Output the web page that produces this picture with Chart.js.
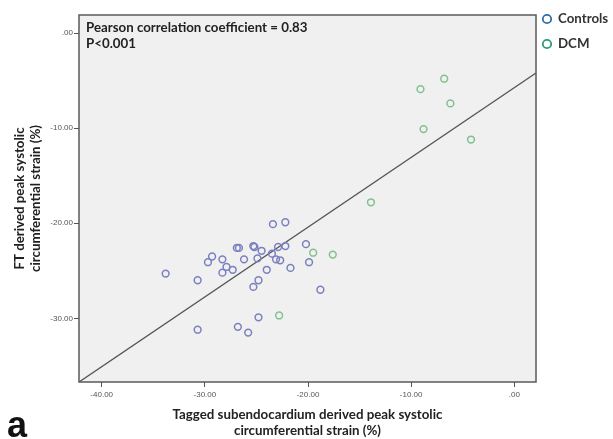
<!DOCTYPE html>
<html>
<head>
<meta charset="utf-8">
<script src="https://cdn.jsdelivr.net/npm/chart.js@4/dist/chart.umd.min.js"></script>
<style>
  html,body{margin:0;padding:0;background:#fff;}
  canvas{display:block;}
</style>
</head>
<body>
<canvas id="strainChart" width="613" height="439"></canvas>
<script>
/* FT vs tagged circumferential strain scatter */
const controlsX = [-33.8,-30.7,-30.7,-29.3,-29.7,-28.3,-27.9,-28.3,-27.3,-26.9,-26.7,-26.8,-25.8,-26.2,-25.3,-25.2,-24.5,-24.9,-24.0,-24.8,-25.3,-24.8,-23.4,-22.2,-22.9,-22.2,-23.5,-23.1,-22.7,-21.7,-20.2,-19.9,-18.8];
const controlsY = [-25.3,-26.0,-31.2,-23.5,-24.1,-23.8,-24.6,-25.2,-24.9,-22.6,-22.6,-30.9,-31.5,-23.8,-22.4,-22.5,-22.9,-23.7,-24.9,-26.0,-26.7,-29.9,-20.1,-19.9,-22.5,-22.4,-23.2,-23.8,-23.9,-24.7,-22.2,-24.1,-27.0];
const dcmX = [-9.1,-6.8,-6.2,-8.8,-4.2,-13.9,-19.5,-17.6,-22.8];
const dcmY = [-5.9,-4.8,-7.4,-10.1,-11.2,-17.8,-23.1,-23.3,-29.7];
const fitX = [-42.2, 2.1];
const fitY = [-36.7, -4.2];
const xTicks = [-40,-30,-20,-10,0];
const yTicks = [0,-10,-20,-30];
const legendLabels = ['Controls','DCM'];
const statLines = ['Pearson correlation coefficient = 0.83','P<0.001'];

const pts = (xs,ys)=> xs.map((x,i)=>({x:x, y:ys[i]}));
const fmt = v=> v===0 ? '.00' : v.toFixed(2);
const titleFont = {family:'Lato', weight:'bold', size:13.3, lineHeight:1.2};

const framePlugin = {
  id:'frame',
  beforeDraw(chart){
    const {ctx, chartArea:a} = chart;
    ctx.save(); ctx.fillStyle='#f0f0f0'; ctx.fillRect(a.left,a.top,a.right-a.left,a.bottom-a.top); ctx.restore();
  },
  afterDraw(chart){
    const {ctx, chartArea:a} = chart;
    ctx.save();
    ctx.strokeStyle='#5a5a5a'; ctx.lineWidth=1.5;
    ctx.strokeRect(a.left,a.top,a.right-a.left,a.bottom-a.top);
    // stats text
    ctx.fillStyle='#222'; ctx.font='bold 13.3px Lato'; ctx.textBaseline='middle'; ctx.textAlign='left';
    ctx.fillText(statLines[0], a.left+7, a.top+13);
    ctx.fillText(statLines[1], a.left+7, a.top+29);
    // legend
    const cols=['#2f6ea6','#2e9a78'];
    legendLabels.forEach((lab,i)=>{
      const y = 19 + i*25;
      ctx.beginPath(); ctx.strokeStyle=cols[i]; ctx.lineWidth=1.8; ctx.arc(a.right+11, y, 4.2, 0, Math.PI*2); ctx.stroke();
      ctx.fillStyle='#333'; ctx.fillText(lab, a.right+22, y);
    });
    // panel letter
    ctx.fillStyle='#111'; ctx.font='bold 36px "Liberation Sans"'; ctx.textBaseline='alphabetic';
    ctx.fillText('a', 7, 437);
    ctx.restore();
  }
};

const ctx = document.getElementById('strainChart').getContext('2d');
const chart = new Chart(ctx, {
  type:'scatter',
  data:{ datasets:[
    { label:'Controls', data:pts(controlsX,controlsY), borderColor:'#7a80bf', backgroundColor:'rgba(0,0,0,0)', borderWidth:1.5, pointRadius:3.4 },
    { label:'DCM', data:pts(dcmX,dcmY), borderColor:'#80c18f', backgroundColor:'rgba(0,0,0,0)', borderWidth:1.5, pointRadius:3.4 },
    { type:'line', label:'fit', data:pts(fitX,fitY), borderColor:'#555', borderWidth:1.4, pointRadius:0, fill:false }
  ]},
  options:{
    responsive:false, animation:false,
    layout:{ padding:{ top:15, right:77, left:0, bottom:0 } },
    plugins:{ legend:{display:false}, tooltip:{enabled:false} },
    scales:{
      x:{ type:'linear', min:-42.2, max:2.1,
        afterBuildTicks: s=>{ s.ticks = xTicks.map(v=>({value:v})); },
        afterFit: s=>{ s.height = 57; },
        grid:{ drawOnChartArea:false, drawTicks:true, tickLength:5, color:'#555' },
        border:{ display:false },
        ticks:{ font:{family:'Liberation Sans', size:8}, color:'#555', padding:3, maxRotation:0, callback:fmt },
        title:{ display:true, text:['Tagged subendocardium derived peak systolic','circumferential strain (%)'], font:titleFont, color:'#222', padding:{top:0,bottom:0} }
      },
      y:{ type:'linear', min:-36.7, max:1.9,
        afterBuildTicks: s=>{ s.ticks = yTicks.map(v=>({value:v})); },
        afterFit: s=>{ s.width = 79; },
        grid:{ drawOnChartArea:false, drawTicks:true, tickLength:5, color:'#555' },
        border:{ display:false },
        ticks:{ font:{family:'Liberation Sans', size:8}, color:'#555', padding:1, callback:fmt },
        title:{ display:true, text:['FT derived peak systolic','circumferential strain (%)'], font:titleFont, color:'#222', padding:{top:12,bottom:0} }
      }
    }
  },
  plugins:[framePlugin]
});
</script>
</body>
</html>
